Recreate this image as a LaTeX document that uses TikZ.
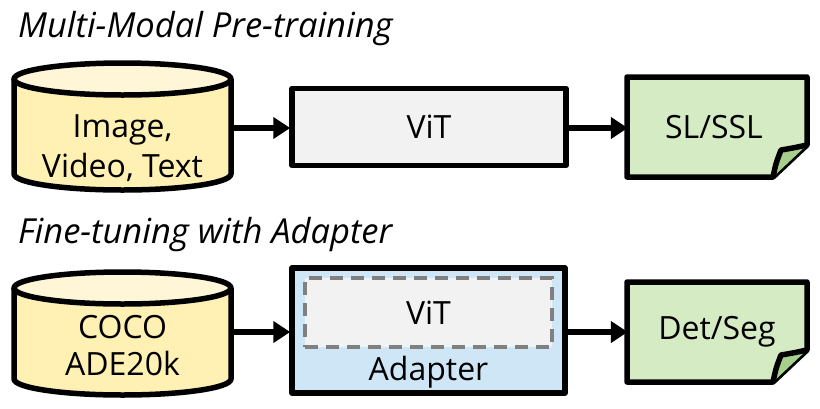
\documentclass[tikz,border=0pt]{standalone}
\usepackage{fontspec}
\setmainfont{Open Sans}
\usetikzlibrary{arrows.meta}
\definecolor{cylbody}{HTML}{FFF0B4}
\definecolor{cyltop}{HTML}{FFF6D8}
\definecolor{docgreen}{HTML}{D5EBC3}
\definecolor{foldgreen}{HTML}{A8D08D}
\definecolor{vitgrey}{HTML}{F2F2F2}
\definecolor{adaptblue}{HTML}{CFE6F7}
\definecolor{dashgrey}{HTML}{808080}
\tikzset{
  outl/.style={draw=black,line width=5.5pt,line join=round},
  lbl/.style={font=\fontsize{32}{40}\selectfont,align=center,inner sep=0pt},
  ttl/.style={font=\fontsize{34.5}{40}\selectfont\itshape,anchor=base west,inner sep=0pt},
  flow/.style={line width=5.5pt,-{Triangle[length=17pt,width=21pt]},shorten >=-1pt},
}
\newcommand{\mycyl}[4]{% xl, xr, ytop-center, ybot-center
  \fill[cylbody] (#1,-#3) -- (#1,-#4) arc[start angle=180,end angle=360,x radius={(#2-#1)/2},y radius=16] -- (#2,-#3) -- cycle;
  \draw[outl,fill=cyltop] ({(#1+#2)/2},-#3) ellipse[x radius={(#2-#1)/2},y radius=16];
  \draw[outl] (#1,-#3) -- (#1,-#4) arc[start angle=180,end angle=360,x radius={(#2-#1)/2},y radius=16] -- (#2,-#3);
}
\newcommand{\mydoc}[4]{% xl, xr, ytop, ybot
  \draw[outl,fill=docgreen] (#1,-#3) -- (#2,-#3) -- (#2,{-#4+32}) -- ({#2-34},-#4) -- (#1,-#4) -- cycle;
  \draw[outl,fill=foldgreen] ({#2-34},-#4) .. controls ({#2-31},{-#4+14}) .. ({#2-26},{-#4+27}) .. controls ({#2-14},{-#4+29}) .. (#2,{-#4+32});
}
\begin{document}
\begin{tikzpicture}[x=1pt,y=1pt]
\useasboundingbox[fill=white] (0,0) rectangle (820,-408);
% titles
\node[ttl] (t1) at (18,-37) {Multi-Modal Pre-training};
\node[ttl] (t2) at (18,-243) {Fine-tuning with Adapter};
% row 1
\mycyl{14}{231}{79}{174}
\node[minimum width=217pt,minimum height=127pt,inner sep=0pt] (data1) at (122.5,-128) {};
\node[lbl] (data1t) at (122.5,-148) {Image,\\Video, Text};
\node[outl,fill=vitgrey,minimum width=274pt,minimum height=77pt,inner sep=0pt] (vit1) at (429,-127) {};
\node[lbl] (vit1t) at (vit1.center) {ViT};
\mydoc{627}{807}{77}{177}
\node[minimum width=180pt,minimum height=100pt,inner sep=0pt] (out1) at (717,-127) {};
\node[lbl] (out1t) at (714,-127) {SL/SSL};
\draw[flow] (data1.east |- 0,-128) -- (vit1.west |- 0,-128);
\draw[flow] (vit1.east |- 0,-128) -- (out1.west |- 0,-128);
% row 2
\mycyl{14}{231}{288}{379}
\node[minimum width=217pt,minimum height=123pt,inner sep=0pt] (data2) at (122.5,-332) {};
\node[lbl,font=\fontsize{32}{37}\selectfont] (data2t) at (122.5,-346) {COCO\\ADE20k};
\node[outl,fill=adaptblue,minimum width=273pt,minimum height=125pt,inner sep=0pt] (adapt) at (428.5,-330.5) {};
\node[draw=dashgrey,line width=3.2pt,dash pattern=on 13pt off 8pt,fill=vitgrey,minimum width=247pt,minimum height=69pt,inner sep=0pt] (vit2) at (428.5,-312.5) {};
\node[lbl] (vit2t) at (vit2.center) {ViT};
\node[lbl] (adaptt) at (428.5,-372) {Adapter};
\mydoc{627}{807}{282}{382}
\node[minimum width=180pt,minimum height=100pt,inner sep=0pt] (out2) at (717,-332) {};
\node[lbl] (out2t) at (717,-332) {Det/Seg};
\draw[flow] (data2.east |- 0,-332) -- (adapt.west |- 0,-332);
\draw[flow] (adapt.east |- 0,-332) -- (out2.west |- 0,-332);
\end{tikzpicture}
\end{document}
